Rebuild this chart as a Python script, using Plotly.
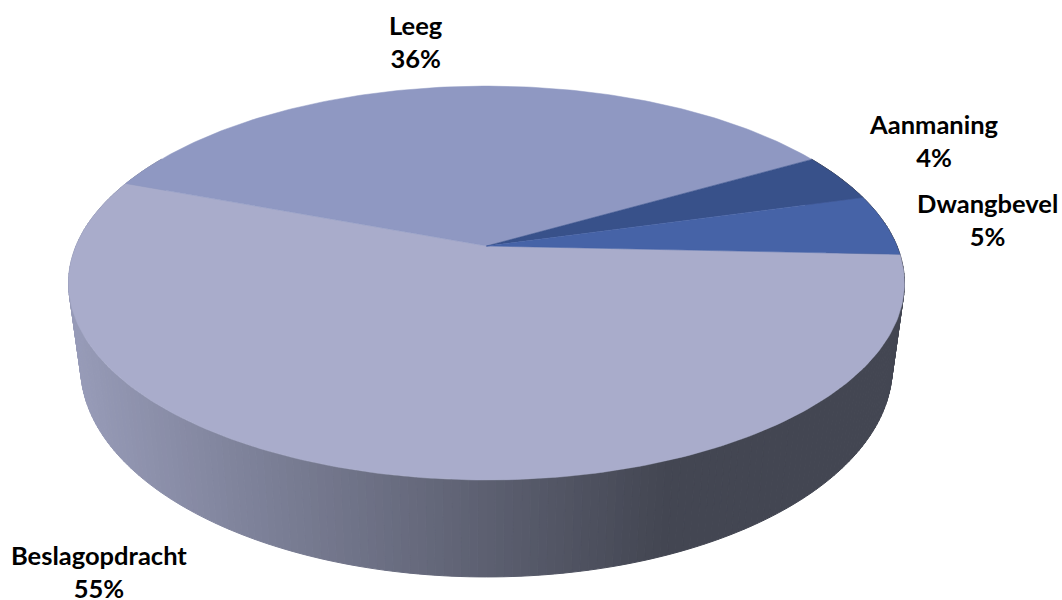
import numpy as np
import plotly.graph_objects as go

# Chart data
categories = ["Beslagopdracht", "Leeg", "Aanmaning", "Dwangbevel"]
values = [55, 36, 4, 5]
top_colors = ["#a9accb", "#8f98c2", "#38518a", "#4663a7"]

# Label anchors, in canvas units
label_x = [99, 416, 934, 987]
label_y = [571, 41, 140, 219]

# Projection of the disc: centre, radii and perspective strength
CX, CY = 486.5, 246.0
RX, RY = 410.5, 190.0
PERSP = 0.188
START_DEG = 2.5

# Lower rim of the disc
BOTTOM_SX = 0.971
BOTTOM_SY = 1.066
BOTTOM_CY = 327.5

# Shading of the rim, left to right
SHADE_LEFT = np.array([153, 157, 186])
SHADE_RIGHT = np.array([67, 70, 82])
SHADE_X0, SHADE_X1 = 70.0, 660.0


def project(theta, cy=CY, sx=1.0, sy=1.0):
    """Map angles on the unit disc to canvas coordinates."""
    X, Y = np.cos(theta), np.sin(theta)
    w = 1 - PERSP * Y
    return CX + sx * RX * X / w, cy + sy * RY * Y / w


fig = go.Figure()

# Rim: narrow quads between the upper and lower edge, drawn under the top face
edges = np.radians(np.arange(-30, 211, 1.0))
for t0, t1 in zip(edges[:-1], edges[1:]):
    pair = np.array([t0, t1])
    xt, yt = project(pair)
    xb, yb = project(pair, BOTTOM_CY, BOTTOM_SX, BOTTOM_SY)
    frac = np.clip((xb.mean() - SHADE_X0) / (SHADE_X1 - SHADE_X0), 0, 1)
    r, g, b = (SHADE_LEFT + frac * (SHADE_RIGHT - SHADE_LEFT)).round().astype(int)
    color = f"rgb({r},{g},{b})"
    fig.add_trace(go.Scatter(
        x=[xt[0], xt[1], xb[1], xb[0], xt[0]],
        y=[yt[0], yt[1], yb[1], yb[0], yt[0]],
        mode="lines", fill="toself", fillcolor=color,
        line=dict(color=color, width=1), hoverinfo="skip", showlegend=False,
    ))

# Top face: one wedge per category, clockwise from the start angle
total = sum(values)
angle = np.radians(START_DEG)
for name, value, color in zip(categories, values, top_colors):
    sweep = 2 * np.pi * value / total
    arc = np.linspace(angle, angle + sweep, max(int(value * 4), 24))
    ax, ay = project(arc)
    fig.add_trace(go.Scatter(
        x=np.r_[CX, ax, CX], y=np.r_[CY, ay, CY],
        mode="lines", fill="toself", fillcolor=color,
        line=dict(color=color, width=0.5), name=name,
        hoverinfo="name", showlegend=False,
    ))
    angle += sweep

for name, value, lx, ly in zip(categories, values, label_x, label_y):
    fig.add_annotation(
        x=lx, y=ly, text=f"<b>{name}</b><br><b>{value}%</b>", showarrow=False,
        xanchor="center", yanchor="middle", align="center",
        font=dict(family="Lato, Carlito, sans-serif", size=25.5, color="#000000"),
    )

fig.update_layout(
    width=1062, height=600,
    margin=dict(l=0, r=0, t=0, b=0),
    paper_bgcolor="white", plot_bgcolor="white",
    xaxis=dict(range=[0, 1062], visible=False, fixedrange=True),
    yaxis=dict(range=[600, 0], visible=False, fixedrange=True),
)

fig.write_html("out.html", config={"displayModeBar": False})
